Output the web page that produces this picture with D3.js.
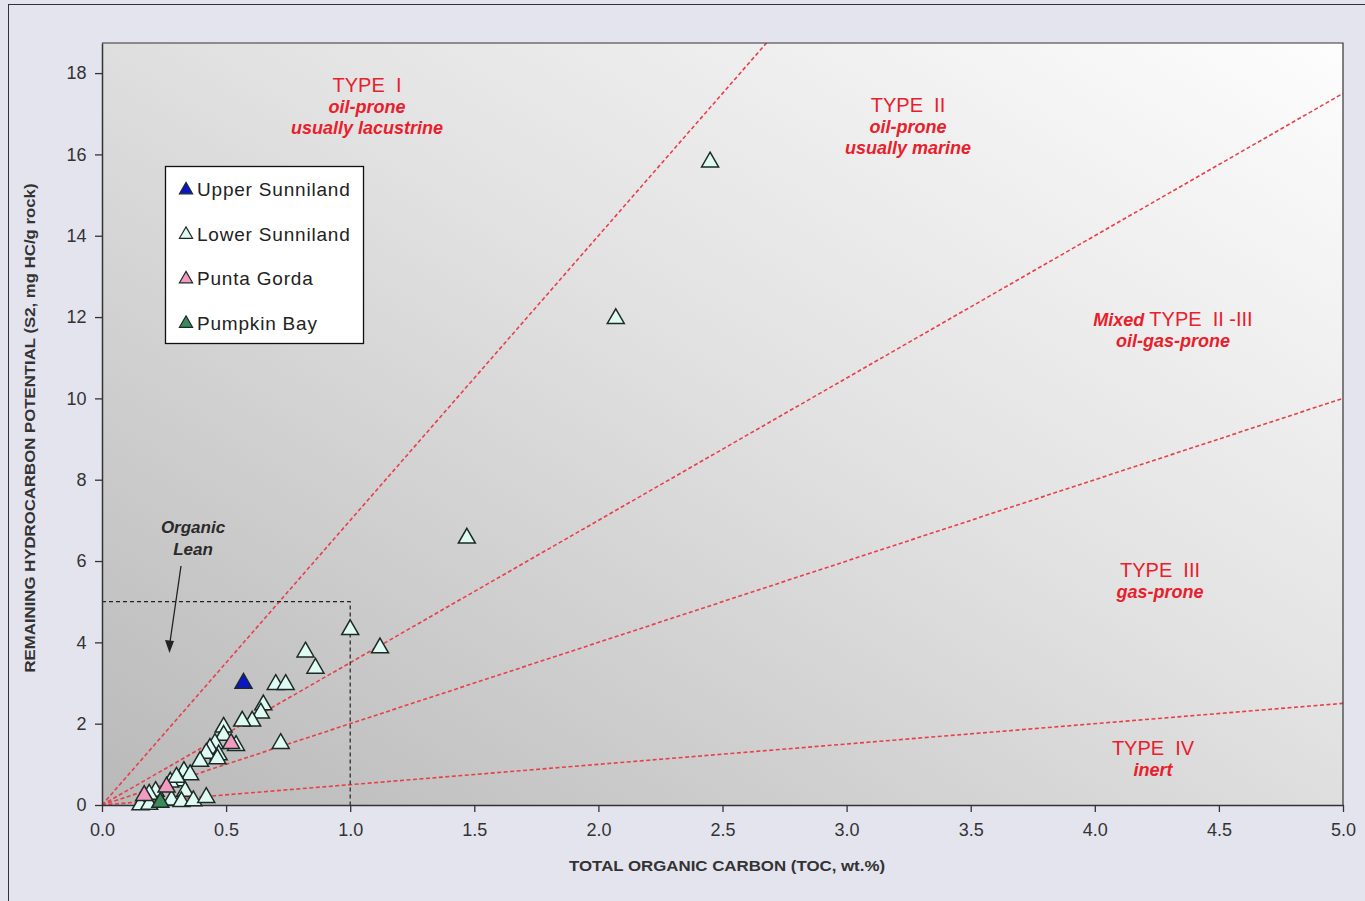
<!DOCTYPE html>
<html><head><meta charset="utf-8">
<script src="https://cdn.jsdelivr.net/npm/d3@7"></script>
<style>
html,body{margin:0;padding:0;background:#e4e4ef;}
svg{display:block;font-family:"Liberation Sans",Arial,sans-serif;}
</style></head><body>
<svg id="c" width="1365" height="901"></svg>
<script>
// ---- data ----
const xTicks = [0,0.5,1.0,1.5,2.0,2.5,3.0,3.5,4.0,4.5,5.0];
const yTicks = [0,2,4,6,8,10,12,14,16,18];
const seriesNames = ["Upper Sunniland","Lower Sunniland","Punta Gorda","Pumpkin Bay"];
const upperSunniland = [[0.57,3.03]];
const lowerSunniland = [
 [2.45,15.85],[2.07,12.0],[1.47,6.6],[1.12,3.9],[1.0,4.35],[0.82,3.8],[0.86,3.4],
 [0.70,3.0],[0.74,3.0],[0.65,2.5],[0.64,2.3],[0.605,2.1],[0.565,2.1],[0.49,1.95],
 [0.49,1.75],[0.72,1.55],[0.54,1.5],[0.455,1.55],[0.435,1.43],[0.47,1.27],[0.42,1.31],
 [0.395,1.11],[0.465,1.17],[0.33,0.86],[0.355,0.78],[0.31,0.63],[0.275,0.6],[0.335,0.37],
 [0.216,0.37],[0.19,0.3],[0.28,0.16],[0.32,0.12],[0.368,0.14],[0.42,0.22],[0.155,0.04],
 [0.19,0.05],[0.30,0.72]
];
const puntaGorda = [[0.52,1.55],[0.26,0.48],[0.17,0.27]];
const pumpkinBay = [[0.235,0.1]];
// kerogen type boundary slopes (S2/TOC)
const boundarySlopes = [7, 3.5, 2, 0.5];
const organicLeanBox = [[0,5],[1,5],[1,0]];

// ---- layout ----
const svg = d3.select("#c");
const L=102, R=1343, T=43, B=805;
const x = d3.scaleLinear().domain([0,5]).range([L,R]);
const y = d3.scaleLinear().domain([0,18.74]).range([B,T]);
const NB = "\u00a0";

// outer frame
svg.append("rect").attr("x",8.5).attr("y",4.5).attr("width",1370).attr("height",910)
  .attr("fill","#e4e4ef").attr("stroke","#333").attr("stroke-width",1);

const defs = svg.append("defs");
const g = defs.append("linearGradient").attr("id","bg")
  .attr("x1","0").attr("y1","1").attr("x2","1").attr("y2","0");
g.append("stop").attr("offset","0%").attr("stop-color","#b9b9b9");
g.append("stop").attr("offset","55%").attr("stop-color","#e2e2e2");
g.append("stop").attr("offset","100%").attr("stop-color","#fdfdfd");
defs.append("clipPath").attr("id","clip").append("rect")
  .attr("x",L).attr("y",T).attr("width",R-L).attr("height",B-T);

svg.append("rect").attr("x",L).attr("y",T).attr("width",R-L).attr("height",B-T)
  .attr("fill","url(#bg)");

// boundary lines
const plot = svg.append("g").attr("clip-path","url(#clip)");
boundarySlopes.forEach(s=>{
  const xe = Math.min(5, 18.74/s);
  plot.append("line").attr("x1",x(0)).attr("y1",y(0)).attr("x2",x(xe)).attr("y2",y(xe*s))
    .attr("stroke","#e8404a").attr("stroke-width",1.6).attr("stroke-dasharray","4,2.5");
});
// organic lean box
plot.append("path").attr("d",d3.line().x(d=>x(d[0])).y(d=>y(d[1]))(organicLeanBox))
  .attr("fill","none").attr("stroke","#222").attr("stroke-width",1.2).attr("stroke-dasharray","4,3");

// axes
const xAxis = svg.append("g").attr("transform",`translate(0,${B})`)
  .call(d3.axisBottom(x).tickValues(xTicks).tickFormat(d3.format(".1f")).tickSize(7).tickSizeOuter(0));
const yAxis = svg.append("g").attr("transform",`translate(${L},0)`)
  .call(d3.axisLeft(y).tickValues(yTicks).tickFormat(d3.format("d")).tickSize(7).tickSizeOuter(0));
[xAxis,yAxis].forEach(a=>{
  a.selectAll("path").attr("stroke","#333").attr("stroke-width",1.5);
  a.selectAll("line").attr("stroke","#333").attr("stroke-width",1.3);
  a.selectAll("text").attr("fill","#333").attr("font-size",18)
    .attr("font-family","'Liberation Sans',Arial,sans-serif");
});
xAxis.selectAll("text").attr("dy","1.15em");
yAxis.selectAll("text").attr("dx","-0.3em");
// plot border top/right
svg.append("path").attr("d",`M${L},${T}H${R}V${B}`).attr("fill","none").attr("stroke","#333").attr("stroke-width",1.2);

// axis titles
svg.append("text").attr("x",727).attr("y",871).attr("text-anchor","middle")
  .attr("font-weight","bold").attr("font-size",14).attr("fill","#333")
  .attr("textLength",316).attr("lengthAdjust","spacingAndGlyphs")
  .text("TOTAL ORGANIC CARBON (TOC, wt.%)");
svg.append("text").attr("transform","translate(35,428) rotate(-90)").attr("text-anchor","middle")
  .attr("font-weight","bold").attr("font-size",14).attr("fill","#333")
  .attr("textLength",489).attr("lengthAdjust","spacingAndGlyphs")
  .text("REMAINING HYDROCARBON POTENTIAL (S2, mg HC/g rock)");

// annotations
const red="#e8202c";
function ann(cx, cy, lines){
  lines.forEach((ln,i)=>{
    const t = svg.append("text").attr("x",cx).attr("y",cy+i*21).attr("text-anchor","middle").attr("fill",red);
    ln.forEach(part=>{
      t.append("tspan").attr("font-size",part.b?18:20).attr("font-weight",part.b?"bold":"normal")
        .attr("font-style",part.b?"italic":"normal").text(part.t);
    });
  });
}
ann(367,92,[[{t:"TYPE"+NB+NB+"I"}],[{t:"oil-prone",b:1}],[{t:"usually lacustrine",b:1}]]);
ann(908,112,[[{t:"TYPE"+NB+NB+"II"}],[{t:"oil-prone",b:1}],[{t:"usually marine",b:1}]]);
ann(1173,326,[[{t:"Mixed"+NB,b:1},{t:"TYPE"+NB+NB+"II -III"}],[{t:"oil-gas-prone",b:1}]]);
ann(1160,577,[[{t:"TYPE"+NB+NB+"III"}],[{t:"gas-prone",b:1}]]);
ann(1153,755,[[{t:"TYPE"+NB+NB+"IV"}],[{t:"inert",b:1}]]);

// organic lean
svg.append("text").attr("x",193).attr("y",533).attr("text-anchor","middle").attr("fill","#2a2a2a")
  .attr("font-size",17).attr("font-weight","bold").attr("font-style","italic").text("Organic");
svg.append("text").attr("x",193).attr("y",555).attr("text-anchor","middle").attr("fill","#2a2a2a")
  .attr("font-size",17).attr("font-weight","bold").attr("font-style","italic").text("Lean");
svg.append("line").attr("x1",181).attr("y1",566).attr("x2",170).attr("y2",642).attr("stroke","#222").attr("stroke-width",1.3);
svg.append("path").attr("d","M165,640 L169.5,653 L174,641 Z").attr("fill","#222");

// markers
const tri = d3.symbol().type(d3.symbolTriangle).size(125);
const styles = [
  {data:lowerSunniland, fill:"#defaf3"},
  {data:puntaGorda, fill:"#f19bc0"},
  {data:pumpkinBay, fill:"#3b8a5c"},
  {data:upperSunniland, fill:"#0a14c8"}
];
styles.forEach(s=>{
  svg.append("g").selectAll("path").data(s.data).join("path")
    .attr("d",tri).attr("transform",d=>`translate(${x(d[0])},${y(d[1])+1.5})`)
    .attr("fill",s.fill).attr("stroke","#1c2a26").attr("stroke-width",1.5);
});

// legend
const lg = svg.append("g");
lg.append("rect").attr("x",165.5).attr("y",166.5).attr("width",198).attr("height",177)
  .attr("fill","#fff").attr("stroke","#111").attr("stroke-width",1.3);
const legFills = ["#0a14c8","#defaf3","#f19bc0","#3b8a5c"];
seriesNames.forEach((n,i)=>{
  const yy = 189 + i*44.5;
  lg.append("path").attr("d",d3.symbol().type(d3.symbolTriangle).size(75))
    .attr("transform",`translate(186,${yy+1})`)
    .attr("fill",legFills[i]).attr("stroke","#1c2a26").attr("stroke-width",1.2);
  lg.append("text").attr("x",197).attr("y",yy+7).attr("font-size",19).attr("fill","#222")
    .attr("letter-spacing",0.8).text(n);
});
</script></body></html>
